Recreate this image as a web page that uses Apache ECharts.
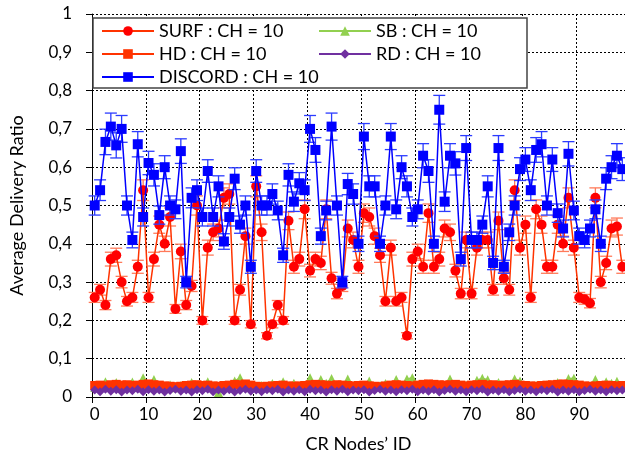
<!DOCTYPE html>
<html>
<head>
<meta charset="utf-8">
<script src="https://cdn.jsdelivr.net/npm/echarts@6/dist/echarts.min.js"></script>
<style>
  html, body { margin: 0; padding: 0; background: #fff; }
  #chart { width: 625px; height: 458px; }
</style>
</head>
<body>
<div id="chart"></div>
<script>
// node ids 0..98
const nodeIds = Array.from({length: 99}, (_, i) => String(i));

const surf = [0.26,0.28,0.24,0.36,0.37,0.30,0.25,0.26,0.34,0.54,
  0.26,0.36,0.45,0.40,0.47,0.23,0.38,0.24,0.29,0.50,
  0.20,0.39,0.43,0.44,0.52,0.53,0.20,0.28,0.42,0.19,
  0.55,0.43,0.16,0.19,0.24,0.20,0.46,0.34,0.36,0.49,
  0.33,0.36,0.35,0.49,0.31,0.27,0.29,0.44,0.41,0.34,
  0.48,0.47,0.42,0.37,0.25,0.39,0.25,0.26,0.16,0.36,
  0.38,0.34,0.48,0.34,0.36,0.44,0.43,0.33,0.27,0.41,
  0.27,0.39,0.41,0.41,0.28,0.46,0.31,0.28,0.54,0.39,
  0.45,0.26,0.49,0.45,0.34,0.34,0.45,0.40,0.52,0.39,
  0.26,0.255,0.245,0.52,0.30,0.35,0.44,0.445,0.34];

const discord = [0.50,0.54,0.666,0.706,0.657,0.70,0.50,0.41,0.66,0.47,
  0.611,0.58,0.475,0.60,0.50,0.49,0.642,0.30,0.52,0.54,
  0.47,0.59,0.47,0.55,0.406,0.47,0.57,0.45,0.50,0.34,
  0.59,0.50,0.50,0.53,0.487,0.37,0.58,0.51,0.558,0.54,
  0.70,0.645,0.42,0.487,0.706,0.50,0.30,0.556,0.53,0.40,
  0.68,0.55,0.55,0.40,0.50,0.68,0.49,0.60,0.55,0.47,
  0.49,0.63,0.59,0.40,0.75,0.51,0.63,0.61,0.36,0.65,
  0.41,0.41,0.45,0.55,0.35,0.65,0.34,0.43,0.50,0.595,
  0.62,0.54,0.645,0.66,0.50,0.62,0.48,0.44,0.635,0.487,
  0.42,0.41,0.44,0.49,0.40,0.57,0.60,0.63,0.595];

const hd = [0.030,0.031,0.029,0.032,0.033,0.031,0.032,0.030,0.031,0.033,
  0.034,0.032,0.031,0.029,0.028,0.027,0.028,0.030,0.031,0.032,
  0.030,0.031,0.029,0.028,0.030,0.031,0.033,0.032,0.034,0.031,
  0.028,0.027,0.028,0.029,0.030,0.031,0.029,0.028,0.029,0.030,
  0.032,0.033,0.032,0.031,0.030,0.032,0.031,0.030,0.029,0.030,
  0.031,0.029,0.028,0.027,0.029,0.031,0.032,0.031,0.030,0.029,
  0.031,0.033,0.034,0.033,0.032,0.031,0.032,0.033,0.031,0.029,
  0.031,0.032,0.033,0.031,0.032,0.030,0.031,0.032,0.033,0.031,
  0.030,0.029,0.028,0.030,0.031,0.032,0.033,0.034,0.033,0.032,
  0.031,0.029,0.028,0.029,0.030,0.031,0.030,0.029,0.030];

const sb = [0.025,0.030,0.040,0.028,0.038,0.026,0.030,0.039,0.027,0.050,
  0.030,0.046,0.028,0.026,0.032,0.024,0.030,0.027,0.038,0.025,
  0.031,0.040,0.027,0.012,0.030,0.026,0.042,0.050,0.031,0.026,
  0.028,0.030,0.024,0.035,0.026,0.040,0.028,0.036,0.027,0.030,
  0.050,0.031,0.046,0.036,0.048,0.030,0.028,0.047,0.029,0.031,
  0.026,0.042,0.028,0.030,0.035,0.029,0.046,0.030,0.047,0.050,
  0.030,0.027,0.032,0.028,0.030,0.029,0.047,0.030,0.028,0.031,
  0.027,0.044,0.049,0.045,0.030,0.038,0.031,0.029,0.047,0.042,
  0.031,0.027,0.030,0.029,0.032,0.028,0.038,0.030,0.048,0.049,
  0.030,0.026,0.029,0.046,0.030,0.040,0.036,0.041,0.031];

const rd = [0.018,0.014,0.020,0.015,0.019,0.013,0.018,0.016,0.020,0.014,
  0.019,0.015,0.018,0.013,0.017,0.020,0.015,0.018,0.013,0.019,
  0.016,0.020,0.014,0.018,0.015,0.019,0.013,0.017,0.020,0.015,
  0.018,0.014,0.019,0.016,0.020,0.013,0.018,0.015,0.019,0.014,
  0.020,0.016,0.018,0.013,0.019,0.015,0.020,0.014,0.018,0.016,
  0.019,0.013,0.017,0.020,0.015,0.018,0.014,0.019,0.016,0.020,
  0.014,0.018,0.015,0.019,0.013,0.017,0.020,0.015,0.018,0.014,
  0.019,0.016,0.020,0.013,0.018,0.015,0.019,0.014,0.017,0.020,
  0.015,0.018,0.014,0.019,0.016,0.020,0.013,0.018,0.015,0.019,
  0.014,0.017,0.020,0.015,0.018,0.014,0.019,0.016,0.018];

// error bars look like roughly 5% of each value
const errRatio = 0.05;

const FONT = 'Lato, "Open Sans", sans-serif';

const chart = echarts.init(document.getElementById('chart'));

function errorBars(values, color, z) {
  return {
    type: 'custom',
    z: z,
    silent: true,
    data: values.map((v, i) => [i, v - v * errRatio, v + v * errRatio]),
    renderItem(params, api) {
      const lo = api.coord([api.value(0), api.value(1)]);
      const hi = api.coord([api.value(0), api.value(2)]);
      const half = 6;
      const style = {stroke: color, lineWidth: 1.3};
      return {
        type: 'group',
        children: [
          {type: 'line', shape: {x1: lo[0], y1: lo[1], x2: hi[0], y2: hi[1]}, style},
          {type: 'line', shape: {x1: lo[0] - half, y1: lo[1], x2: lo[0] + half, y2: lo[1]}, style},
          {type: 'line', shape: {x1: hi[0] - half, y1: hi[1], x2: hi[0] + half, y2: hi[1]}, style}
        ]
      };
    }
  };
}

function lineSeries(name, data, lineColor, markColor, symbol, size, z) {
  return {
    name, type: 'line', data, z,
    symbol, symbolSize: size,
    showAllSymbol: true,
    lineStyle: {color: lineColor, width: 1.5},
    itemStyle: {color: markColor},
    emphasis: {disabled: true},
    animation: false
  };
}

const legendText = {fontFamily: FONT, fontSize: 18, color: '#000', lineHeight: 16};

chart.setOption({
  animation: false,
  backgroundColor: '#fff',
  grid: {left: 87, right: 0, top: 14, bottom: 60},
  graphic: [{
    type: 'rect', z: 50,
    shape: {x: 93, y: 18, width: 434, height: 70},
    style: {fill: '#fff', stroke: '#444', lineWidth: 1.5}
  }],
  legend: [{
    orient: 'vertical', left: 96, top: 17, z: 60,
    itemWidth: 52, itemHeight: 12, itemGap: 5,
    textStyle: legendText,
    data: ['SURF : CH = 10', 'HD : CH = 10', 'DISCORD : CH = 10']
  }, {
    orient: 'vertical', left: 313, top: 17, z: 60,
    itemWidth: 52, itemHeight: 12, itemGap: 5,
    textStyle: legendText,
    data: ['SB : CH = 10', 'RD : CH = 10']
  }],
  xAxis: {
    type: 'category',
    data: nodeIds,
    boundaryGap: true,
    name: 'CR Nodes’ ID',
    nameLocation: 'middle',
    nameGap: 38,
    nameTextStyle: {fontFamily: FONT, fontSize: 18, color: '#000'},
    axisLine: {lineStyle: {color: '#000', width: 1}},
    axisTick: {show: true, length: 6, interval: (i) => i % 10 === 0, lineStyle: {color: '#000'}},
    axisLabel: {interval: (i) => i % 10 === 0, fontFamily: FONT, fontSize: 17, color: '#000', margin: 9},
    splitLine: {show: true, interval: (i) => i % 10 === 0, lineStyle: {color: '#000', type: [2, 2], width: 1}}
  },
  yAxis: {
    type: 'value',
    min: 0, max: 1, interval: 0.1,
    name: 'Average Delivery Ratio',
    nameLocation: 'middle',
    nameGap: 66,
    nameTextStyle: {fontFamily: FONT, fontSize: 18, color: '#000'},
    axisLine: {show: true, lineStyle: {color: '#000', width: 1}},
    axisTick: {show: true, length: 6, lineStyle: {color: '#000'}},
    axisLabel: {
      fontFamily: FONT, fontSize: 17, color: '#000', margin: 20,
      formatter: (v) => (v === 0 || v === 1) ? String(v) : v.toFixed(1).replace('.', ',')
    },
    splitLine: {show: true, lineStyle: {color: '#000', type: [2, 2], width: 1}}
  },
  series: [
    lineSeries('SB : CH = 10', sb, '#92D050', '#92D050', 'triangle', 9, 2),
    lineSeries('HD : CH = 10', hd, '#FF3300', '#FF3300', 'rect', 9, 3),
    lineSeries('RD : CH = 10', rd, '#7030A0', '#7030A0', 'diamond', 9, 4),
    errorBars(surf, '#FF7A5A', 5),
    lineSeries('SURF : CH = 10', surf, '#FF3300', '#FF0000', 'circle', 10, 6),
    errorBars(discord, '#2B3BFF', 7),
    lineSeries('DISCORD : CH = 10', discord, '#0000FF', '#0000FF', 'rect', 10, 8)
  ]
});
</script>
</body>
</html>
